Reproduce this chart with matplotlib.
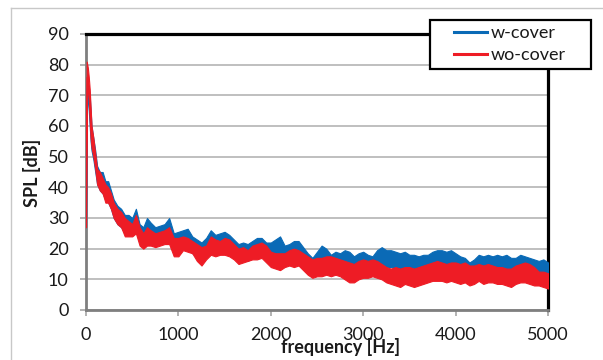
import numpy as np
import matplotlib
matplotlib.use("Agg")
import matplotlib.pyplot as plt
from matplotlib.lines import Line2D
from matplotlib.patches import Rectangle

plt.rcParams['font.family'] = ['Lato', 'DejaVu Sans']

# ---------------- data ----------------
series_names = ["w-cover", "wo-cover"]
series_colors = ["#0A6AB6", "#EE1C25"]

freq_low = [0, 8, 20, 30, 40, 50, 60, 80, 100, 120, 150, 180, 210, 240, 270,
            300, 340, 380, 420, 460, 500, 540, 580, 620, 660, 700]
freq_high = list(range(750, 5001, 50))
freq = np.array(freq_low + freq_high, dtype=float)

# w-cover band: upper / lower envelope (dB)
w_upper = [28, 72, 74, 73, 70, 65, 60, 56, 52, 47, 45, 45, 42, 42, 39, 36, 34, 33, 31, 31, 30, 33, 28, 27, 30, 28.5,
           27, 27.5, 28, 30, 25, 25.5, 26, 26.5, 24, 23,
           22, 23.5, 26, 24.5, 25, 25.5, 24.5, 23, 21.5, 22,
           21.5, 22.5, 23.5, 23.5, 22, 22, 23, 24, 21, 21.5,
           22.5, 22.5, 20.5, 18.5, 17, 19, 21, 20, 18, 19,
           18.5, 19.5, 19, 17.5, 18.5, 19, 18, 17.5, 19.5, 20.5,
           19.5, 19.5, 19, 18.5, 19, 18, 18, 17.5, 18, 18,
           19, 19.5, 19.5, 19, 19.5, 18.5, 17.5, 17, 15.5, 16.5,
           18, 17.5, 18, 17.5, 18, 17.5, 18, 17, 17, 18,
           17.5, 17, 16.5, 16, 16.5, 15.5]
w_lower = [27, 68, 68, 65, 60, 55, 52, 49, 45, 41, 39, 38, 36, 35, 33, 30, 28, 27, 25, 25, 25, 26, 22, 21, 23, 22,
           21.5, 22, 22.5, 24.5, 19.5, 20, 20.5, 21, 18.5, 17.5,
           16.5, 18, 20.5, 19, 19.5, 20, 19, 17.5, 16, 16.5,
           16, 17, 18, 18, 16.5, 16.5, 17.5, 18.5, 15.5, 16,
           17, 17, 15, 13, 11.5, 13.5, 15.5, 14.5, 12.5, 13.5,
           13, 14, 13.5, 12, 13, 13.5, 12.5, 12, 14, 15,
           14, 14, 13.5, 13, 13.5, 12.5, 12.5, 12, 12.5, 12.5,
           13.5, 14, 14, 13.5, 14, 13, 12, 11.5, 10, 11,
           12.5, 12, 12.5, 12, 12.5, 12, 12.5, 11.5, 11.5, 12.5,
           12, 11.5, 11, 10.5, 11, 10]

# wo-cover band: upper / lower envelope (dB)
wo_upper = [28, 81, 79, 76, 72, 66, 60, 56, 51, 46, 45, 43, 41, 40, 38, 35, 33, 32, 30, 29, 28, 31, 27, 25, 27, 26,
            25, 25.5, 26, 27, 23.5, 23.5, 24, 23.5, 22.5, 21.5,
            20.5, 21, 24, 23, 22.5, 23.5, 23, 21.5, 20, 20.5,
            19.5, 21, 21.5, 22, 21, 19, 18.5, 18.5, 18.5, 19.5,
            20, 19.5, 18.5, 17.5, 16.5, 17, 17, 17.5, 17.5, 17,
            16.5, 16, 15.5, 15, 16, 16.5, 16, 16.5, 16, 15,
            14, 13.5, 14, 13.5, 14, 14, 13.5, 14, 14.5, 15,
            15.5, 16, 15.5, 15, 15.5, 15.5, 15, 15.5, 14.5, 14.5,
            15, 14.5, 15, 14.5, 14, 14, 13.5, 13.5, 14.5, 15,
            15.5, 15, 14, 12.5, 12.5, 12]
wo_lower = [27, 76, 72, 68, 62, 56, 53, 50, 46, 41, 39, 38, 35, 35, 33, 30, 28, 27, 24, 24, 24, 25, 21, 20, 21, 21,
            20.5, 21, 21.5, 21.5, 17.5, 17.5, 19.5, 19, 18.5, 16,
            14.5, 16.5, 18, 17.5, 18, 18, 17.5, 16.5, 15, 15.5,
            16, 16.5, 16.5, 17, 15.5, 14, 13.5, 13, 14, 14.5,
            14, 14.5, 13, 11.5, 10.5, 11, 11, 11.5, 11, 11.5,
            11, 10, 9, 9, 10, 10.5, 10.5, 11, 10.5, 10,
            9, 8.5, 8, 7.5, 8.5, 8, 7.5, 8, 8.5, 9,
            9.5, 9.5, 9.5, 9, 9.5, 9, 8.5, 9, 8, 8.5,
            9.5, 8.5, 9, 9, 8.5, 8.5, 8, 7.5, 8.5, 9,
            9, 8.5, 8, 8, 7.5, 7]

x_ticks = [0, 1000, 2000, 3000, 4000, 5000]
y_ticks = [0, 10, 20, 30, 40, 50, 60, 70, 80, 90]
x_label = "frequency [Hz]"
y_label = "SPL [dB]"

# ---------------- figure ----------------
W, H = 603, 360
fig = plt.figure(figsize=(W / 100, H / 100), dpi=100)
fig.patch.set_facecolor("white")

ax = fig.add_axes([86 / W, 1 - 310 / H, (548 - 86) / W, (310 - 34) / H])
ax.set_xlim(0, 5000)
ax.set_ylim(0, 90)

bands = [(w_upper, w_lower), (wo_upper, wo_lower)]
for (up, lo), col in zip(bands, series_colors):
    ax.fill_between(freq, np.array(lo), np.array(up), facecolor=col,
                    edgecolor=col, linewidth=0.8, zorder=3)

ax.set_xticks(x_ticks)
ax.set_yticks(y_ticks)
ax.tick_params(axis='both', direction='out', length=4.5, width=1.2,
               color='#A6A6A6', labelsize=13, pad=8, labelcolor='#1a1a1a')
ax.yaxis.grid(True, color='#BFBFBF', linewidth=1.4, zorder=1)
ax.set_axisbelow(True)

for side in ['top', 'right']:
    ax.spines[side].set_color('black')
    ax.spines[side].set_linewidth(2.3)
for side in ['left', 'bottom']:
    ax.spines[side].set_color('#7F7F7F')
    ax.spines[side].set_linewidth(2.0)

# axis titles
fig.text(341 / W, 1 - 347 / H, x_label, ha='center', va='center',
         fontsize=13, fontweight='bold', color='#1a1a1a')
fig.text(32 / W, 1 - 173 / H, y_label, ha='center', va='center',
         rotation=90, fontsize=13, fontweight='bold', color='#1a1a1a')

# outer chart border
fig.add_artist(Line2D([10.5 / W, 10.5 / W], [0, 1 - 8 / H], color='#C8C8C8', lw=1.0))
fig.add_artist(Line2D([10.5 / W, 1], [1 - 8 / H, 1 - 8 / H], color='#C8C8C8', lw=1.0))

# legend
frame = Rectangle((430 / W, 1 - 68.5 / H), (591 - 430) / W, (68.5 - 19.5) / H,
                  transform=fig.transFigure, facecolor='white', edgecolor='black',
                  linewidth=1.6, zorder=4)
fig.add_artist(frame)
handles = [Line2D([], [], color=c, lw=2.2) for c in series_colors]
leg = fig.legend(handles, series_names, loc='center left',
                 bbox_to_anchor=(454 / W, 1 - 44.2 / H), frameon=False,
                 borderpad=0, borderaxespad=0, handlelength=1.85,
                 handletextpad=0.2, labelspacing=0.35, fontsize=13)
leg.set_zorder(5)
for t in leg.get_texts():
    t.set_color('#1a1a1a')

fig.savefig("out.png", dpi=100)
